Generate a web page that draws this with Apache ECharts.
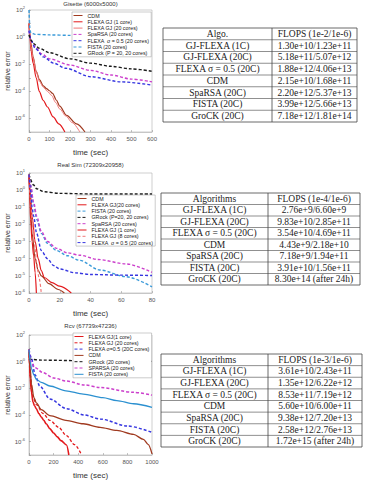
<!DOCTYPE html>
<html><head><meta charset="utf-8">
<script src="https://cdn.jsdelivr.net/npm/echarts@6/dist/echarts.min.js"></script>
<style>html,body{margin:0;padding:0;background:#fff;}#c{width:366px;height:480px;}</style>
</head><body><div id="c"></div>
<script>
// ---------- Chart 1: Gisette ----------
var gisCDM   = [[0,10],[5,1.5],[10,0.3],[20,0.035],[35,3e-3],[52,7e-4],[70,2.5e-4],[85,1.6e-4],[100,1.1e-4],[115,7e-5],[134,2.2e-5],[150,8e-6],[183,1.7e-6],[232,4e-7],[273,1e-7]];
var gisGJ1   = [[0,10],[5,0.8],[10,0.1],[20,0.012],[35,1e-3],[50,1e-4],[69,2.2e-5],[90,7e-6],[118,1.3e-6],[145,4e-7],[175,1e-7]];
var gisGJ20  = [[0,10],[5,1],[10,0.2],[20,0.03],[35,3e-3],[52,5e-4],[70,2e-4],[90,1e-4],[110,5e-5],[130,1.5e-5],[150,5e-6],[180,1.5e-6],[210,5e-7],[248,1e-7]];
var gisSpa   = [[0,3],[10,0.5],[30,0.2],[60,0.06],[100,0.025],[200,0.0087],[300,0.0035],[400,0.0016],[500,8e-4],[600,5e-4]];
var gisSig   = [[0,3],[10,0.6],[30,0.15],[70,0.035],[120,0.012],[180,0.005],[300,0.0012],[450,5e-4],[600,2.9e-4]];
var gisFista = [[0,100],[5,3],[10,2],[30,1.6],[100,1.45],[200,1.35],[400,1.15],[600,1.0]];
var gisGrock = [[0,1.5],[10,0.6],[20,0.35],[50,0.15],[100,0.07],[200,0.025],[300,0.012],[400,0.007],[500,0.0045],[600,0.003]];

// ---------- Chart 2: Real Sim ----------
var rsCDM   = [[0,8],[1,0.1],[2,3e-3],[4,1e-4],[6,2e-5],[8,1e-5],[13,3.5e-6],[19,1.6e-6],[23,1e-6]];
var rsGJ20  = [[0,8],[0.5,0.5],[1,0.02],[2,1e-3],[3,1.5e-4],[4,1.5e-5],[4.8,1e-6]];
var rsFista = [[0,8],[1,2],[3,0.15],[5,0.02],[8,0.003],[12,8e-4],[18,3e-4],[25,1.5e-4],[33,8e-5],[46,2.2e-5],[63,9e-6],[80,2.3e-6]];
var rsGrock = [[0,8],[3,2],[5,1.2],[10,0.8],[20,0.65],[40,0.6],[80,0.6]];
var rsSpa   = [[0,8],[1,2],[3,0.2],[5,0.03],[8,0.004],[12,0.001],[18,4e-4],[25,2.2e-4],[33,1.6e-4],[45,9e-5],[63,5e-5],[80,1.6e-5]];
var rsGJ1   = [[0,8],[1,0.5],[2,0.03],[4,1e-3],[6,1e-4],[8,2e-5],[10,8e-6],[15,4e-6],[20,2.5e-6],[27.5,1e-6]];
var rsGJ8   = [[0,8],[1,0.3],[2,0.02],[3,3e-3],[4,4e-4],[5,5e-5],[6.5,8e-6],[8,1e-6]];
var rsSig   = [[0,8],[1,1],[2,0.1],[3,0.03],[5,0.003],[8,3e-4],[12,1e-4],[16,4e-5],[20,2.5e-5],[30,1.5e-5],[40,1.2e-5],[60,1.1e-5],[80,1.05e-5]];

// ---------- Chart 3: Rcv ----------
var rcGJ1   = [[0,8],[5,0.5],[10,0.05],[20,0.005],[33,9e-4],[45,5e-4],[60,2.9e-4],[80,1.3e-4],[100,7e-5],[120,4e-5],[140,2.2e-5],[169,9.5e-6],[200,4.5e-6],[230,2.3e-6],[260,1.2e-6],[305,5.6e-7],[324,1e-7]];
var rcGJ20  = [[0,8],[10,0.1],[30,0.003],[60,6e-4],[114,1.3e-4],[169,4e-5],[240,1.2e-5],[305,2.8e-6],[370,6e-7],[428,1e-7]];
var rcSig   = [[0,8],[19,1.9],[50,0.1],[87,0.015],[169,0.0016],[305,3e-4],[450,1e-4],[578,5e-5],[800,1.5e-5],[1000,5e-6]];
var rcCDM   = [[0,8],[10,0.3],[20,0.02],[40,2e-3],[60,8e-4],[100,2.5e-4],[169,9e-5],[300,4e-5],[441,2.2e-5],[578,1.2e-5],[714,7e-6],[850,3.5e-6],[930,1.5e-6],[970,6e-7],[1000,1.2e-7]];
var rcGrock = [[0,1.6],[10,1.5],[100,1.3],[500,1.15],[1000,1.05]];
var rcSpa   = [[0,8],[10,1.5],[20,0.8],[50,0.35],[114,0.15],[200,0.06],[305,0.035],[450,0.018],[578,0.0115],[850,0.005],[1000,0.0031]];
var rcFista = [[0,8],[10,1],[20,0.3],[40,0.1],[60,0.047],[100,0.028],[169,0.015],[300,0.0065],[441,0.0037],[600,0.002],[714,0.0012],[850,7e-4],[1000,3.8e-4]];

// ---------- Axis ticks ----------
var xTicks1 = [0,100,200,300,400,500,600];
var xTicks2 = [0,20,40,60,80];
var xTicks3 = [0,200,400,600,800,1000];

// ---------- Tables ----------
var tab1Head = ['Algo.', 'FLOPS (1e-2/1e-6)'];
var tab1Algo = ['GJ-FLEXA (1C)','GJ-FLEXA (20C)','FLEXA σ = 0.5 (20C)','CDM','SpaRSA (20C)','FISTA (20C)','GroCK (20C)'];
var tab1Flops = ['1.30e+10/1.23e+11','5.18e+11/5.07e+12','1.88e+12/4.06e+13','2.15e+10/1.68e+11','2.20e+12/5.37e+13','3.99e+12/5.66e+13','7.18e+12/1.81e+14'];
var tab2Head = ['Algorithms', 'FLOPS (1e-4/1e-6)'];
var tab2Algo = tab1Algo;
var tab2Flops = ['2.76e+9/6.60e+9','9.83e+10/2.85e+11','3.54e+10/4.69e+11','4.43e+9/2.18e+10','7.18e+9/1.94e+11','3.91e+10/1.56e+11','8.30e+14 (after 24h)'];
var tab3Head = ['Algorithms', 'FLOPS (1e-3/1e-6)'];
var tab3Algo = tab1Algo;
var tab3Flops = ['3.61e+10/2.43e+11','1.35e+12/6.22e+12','8.53e+11/7.19e+12','5.60e+10/6.00e+11','9.38e+12/7.20e+13','2.58e+12/2.76e+13','1.72e+15 (after 24h)'];

// ---------- Styles ----------
var RED='#e3191c', PINK='#f07878', BROWN='#a03a20', MAG='#cc3fcc', BLUE='#3636e0', LBLUE='#3a9ad9', BLACK='#1a1a1a', FBLUE='#2b90d0';
var DASH=[3,2];
function st(color, dashed, width){ return {color:color, type: dashed?DASH:'solid', width: width||1.2}; }

var chartSpecs = [
  {title:'Gisette (6000x5000)', grid:{left:29,top:10,width:123,height:122}, xint:100, ymin:1e-7, ymax:1e2, even:true, titleTop:1,
   legend:{left:72,top:12},
   series:[
    ['CDM', gisCDM, st(BROWN,false,1.2)],
    ['FLEXA GJ (1 core)', gisGJ1, st(RED,false,1.2)],
    ['FLEXA GJ (20 cores)', gisGJ20, st(PINK,false,1)],
    ['SpaRSA (20 cores)', gisSpa, st(MAG,true,1.4)],
    ['FLEXA  σ = 0.5 (20 cores)', gisSig, st(BLUE,true,1.4)],
    ['FISTA (20 cores)', gisFista, st(LBLUE,true,1.4)],
    ['GRock (P = 20, 20 cores)', gisGrock, st(BLACK,true,1.4)]
   ]},
  {title:'Real Sim (72309x20958)', grid:{left:29,top:173,width:123,height:120}, xint:20, ymin:1e-6, ymax:1e1, even:false, titleTop:162,
   legend:{left:76,top:195},
   series:[
    ['CDM', rsCDM, st(BROWN,false,1.2)],
    ['FLEXA GJ(20 cores)', rsGJ20, st(RED,false,1.2)],
    ['FISTA (20 cores)', rsFista, st(LBLUE,true,1.4)],
    ['GRock (P=20, 20 cores)', rsGrock, st(BLACK,true,1.4)],
    ['SpaRSA (20 cores)', rsSpa, st(MAG,true,1.4)],
    ['FLEXA GJ (1 core)', rsGJ1, st(RED,false,1.2)],
    ['FLEXA GJ (8 cores)', rsGJ8, st(PINK,true,1.2)],
    ['FLEXA  σ = 0.5 (20 cores)', rsSig, st(BLUE,true,1.4)]
   ]},
  {title:'Rcv (67739x47236)', grid:{left:29,top:335,width:123,height:122}, xint:200, ymin:1e-7, ymax:1e2, even:true, titleTop:323,
   legend:{left:73,top:333},
   series:[
    ['FLEXA GJ(1 core)', rcGJ1, st(RED,false,1.6)],
    ['FLEXA GJ (20 cores)', rcGJ20, st(RED,true,1.3)],
    ['FLEXA σ=0.5 (20C cores)', rcSig, st(BLUE,true,1.5)],
    ['CDM', rcCDM, st(BROWN,false,1.3)],
    ['GRock (20 cores)', rcGrock, st(BLACK,true,1.4)],
    ['SPARSA (20 cores)', rcSpa, st(MAG,true,1.5)],
    ['FISTA (20 cores)', rcFista, st(FBLUE,false,1.3)]
   ]}
];

var option = {animation:false, backgroundColor:'#fff', title:[], grid:[], xAxis:[], yAxis:[], legend:[], series:[], graphic:[]};
var xTickSets=[xTicks1,xTicks2,xTicks3];

chartSpecs.forEach(function(c, i){
  option.title.push({text:c.title, left:c.grid.left + c.grid.width/2, top:c.titleTop, textAlign:'center', padding:0,
    textStyle:{fontSize:6, fontWeight:'normal', color:'#333', fontFamily:'Liberation Sans'}});
  option.grid.push({left:c.grid.left, top:c.grid.top, width:c.grid.width, height:c.grid.height, show:true, borderColor:'#b0b0b0', borderWidth:0.6, backgroundColor:'#fff'});
  var ticks = xTickSets[i];
  option.xAxis.push({type:'value', gridIndex:i, min:ticks[0], max:ticks[ticks.length-1], interval:c.xint,
    name:'time (sec)', nameLocation:'middle', nameGap:16, nameTextStyle:{fontSize:8, color:'#333', fontFamily:'Liberation Sans'},
    axisLine:{lineStyle:{color:'#b0b0b0', width:0.6}}, axisTick:{inside:true, length:2, lineStyle:{color:'#888', width:0.5}},
    axisLabel:{fontSize:6, color:'#555', margin:4, fontFamily:'Liberation Sans', formatter:function(v){return String(v);}}, splitLine:{show:false}});
  option.yAxis.push({type:'log', logBase:10, gridIndex:i, min:c.ymin, max:c.ymax,
    name:'relative error', nameLocation:'middle', nameGap:18, nameRotate:90, nameTextStyle:{fontSize:7, color:'#333', fontFamily:'Liberation Sans'},
    axisLine:{lineStyle:{color:'#b0b0b0', width:0.6}}, axisTick:{inside:true, length:2, lineStyle:{color:'#888', width:0.5}},
    axisLabel:{fontSize:6, color:'#555', margin:4, fontFamily:'Liberation Sans',
      formatter:(function(even){ return function(v){ var e=Math.round(Math.log10(v)); if(even && e%2!==0) return ''; return '10{e|'+e+'}'; };})(c.even),
      rich:{e:{fontSize:4, color:'#555', padding:[0,0,5,0], fontFamily:'Liberation Sans'}}},
    splitLine:{show:false}});
  var ldata=[];
  c.series.forEach(function(s){
    option.series.push({type:'line', name:s[0], xAxisIndex:i, yAxisIndex:i, data:s[1], showSymbol:false, symbol:'none',
      smooth:0.3, smoothMonotone:'x', lineStyle:s[2], itemStyle:{color:s[2].color}, clip:true, z:2});
    ldata.push({name:s[0], itemStyle:{color:s[2].color, opacity:0, borderWidth:0}, lineStyle:{color:s[2].color, type:s[2].type, width:1, opacity:1}});
  });
  option.legend.push({left:c.legend.left, top:c.legend.top, orient:'vertical', itemWidth:9, itemHeight:4, itemGap:1.3,
    padding:[1,2,1,1], backgroundColor:'#fff', borderColor:'#999', borderWidth:0.5, selectedMode:false, z:10,
    textStyle:{fontSize:5.3, color:'#222', fontFamily:'Liberation Sans'},
    data:ldata});
});

function addTable(x0, y0, x1, y1, xd, head, algos, flops){
  var rows=[head].concat(algos.map(function(a,k){return [a, flops[k]];}));
  var n=rows.length, rh=(y1-y0)/n;
  var g=option.graphic;
  g.push({type:'rect', shape:{x:x0,y:y0,width:x1-x0,height:y1-y0}, style:{fill:'none', stroke:'#444', lineWidth:0.8}});
  g.push({type:'line', shape:{x1:xd,y1:y0,x2:xd,y2:y1}, style:{stroke:'#444', lineWidth:0.8}});
  for(var r=1;r<n;r++){
    g.push({type:'line', shape:{x1:x0,y1:y0+r*rh,x2:x1,y2:y0+r*rh}, style:{stroke:'#444', lineWidth:0.6}});
  }
  rows.forEach(function(row,r){
    var cy=y0+(r+0.5)*rh;
    g.push({type:'text', x:(x0+xd)/2, y:cy, style:{text:row[0], fill:'#222', font:'9.5px "Liberation Serif"', textAlign:'center', textVerticalAlign:'middle'}});
    g.push({type:'text', x:(xd+x1)/2, y:cy, style:{text:row[1], fill:'#222', font:'9.5px "Liberation Serif"', textAlign:'center', textVerticalAlign:'middle'}});
  });
}
addTable(163, 28, 357, 122, 272, tab1Head, tab1Algo, tab1Flops);
addTable(161, 193, 360, 285, 268, tab2Head, tab2Algo, tab2Flops);
addTable(161, 354, 362, 447, 268, tab3Head, tab3Algo, tab3Flops);

var chart = echarts.init(document.getElementById('c'), null, {renderer:'svg'});
chart.setOption(option);
</script></body></html>
